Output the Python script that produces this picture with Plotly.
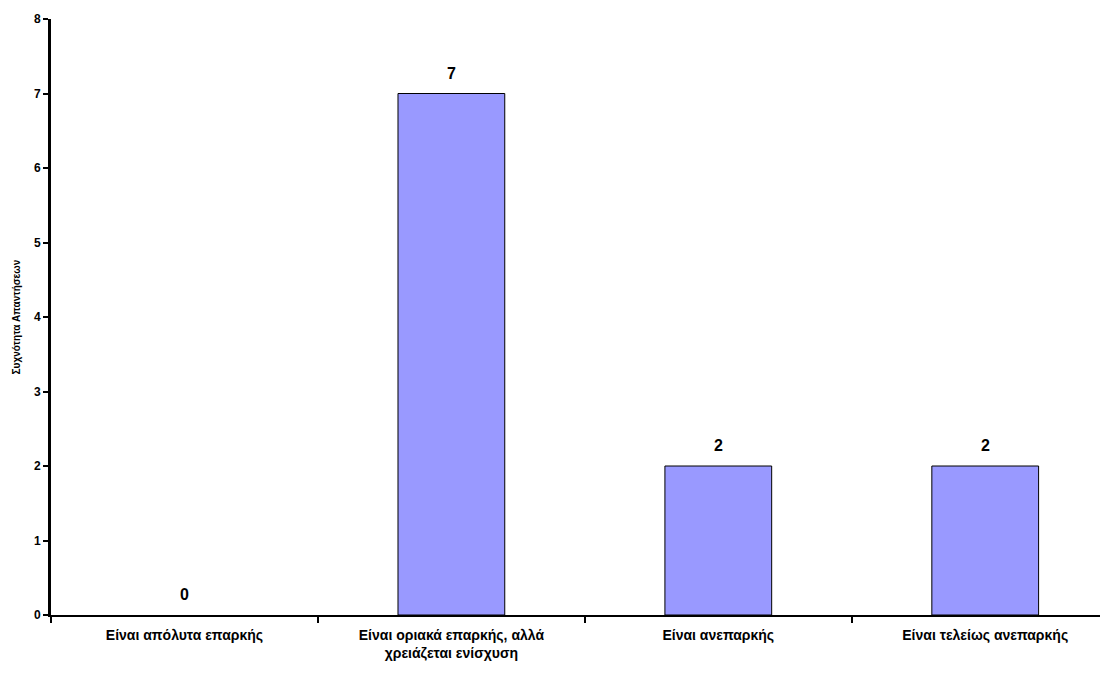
import plotly.graph_objects as go

categories = [
    "Είναι απόλυτα επαρκής",
    "Είναι οριακά επαρκής, αλλά<br>χρειάζεται ενίσχυση",
    "Είναι ανεπαρκής",
    "Είναι τελείως ανεπαρκής",
]
values = [0, 7, 2, 2]
y_title = "Συχνότητα Απαντήσεων"

FONT = "Liberation Sans, Arial, sans-serif"

fig = go.Figure(
    go.Bar(
        x=categories,
        y=values,
        width=0.4,
        marker=dict(
            color="#9999FF",
            line=dict(color="#000000", width=[0 if v == 0 else 1 for v in values]),
        ),
        cliponaxis=False,
    )
)

# value labels above bars
for c, v in zip(categories, values):
    fig.add_annotation(
        x=c, y=v, text=f"<b>{v}</b>", showarrow=False,
        yanchor="bottom", yshift=10,
        font=dict(family=FONT, size=16, color="black"),
    )

# page has an 8px body margin, so the figure is sized to fill the remaining window
fig.update_layout(
    width=1100,
    height=670,
    margin=dict(l=43, r=0, t=11, b=63, autoexpand=False),
    paper_bgcolor="white",
    plot_bgcolor="white",
    showlegend=False,
    bargap=0.6,
)

fig.update_xaxes(
    type="category",
    range=[-0.5, 3.46],
    automargin=False,
    showline=True,
    linecolor="black",
    linewidth=2,
    ticks="outside",
    tickson="boundaries",
    ticklen=6,
    tickwidth=2,
    tickcolor="black",
    ticklabelstandoff=6,
    tickfont=dict(family=FONT, size=14, color="black", weight="bold"),
    showgrid=False,
    zeroline=False,
)

fig.update_yaxes(
    range=[0, 8],
    dtick=1,
    automargin=False,
    showline=True,
    linecolor="black",
    linewidth=3,
    ticks="outside",
    ticklen=5,
    tickwidth=2,
    tickcolor="black",
    tickfont=dict(family=FONT, size=12, color="black", weight="bold"),
    showgrid=False,
    zeroline=False,
    title=dict(text=y_title, font=dict(family=FONT, size=10, color="black", weight="bold"), standoff=12),
)

fig.write_html("out.html")
